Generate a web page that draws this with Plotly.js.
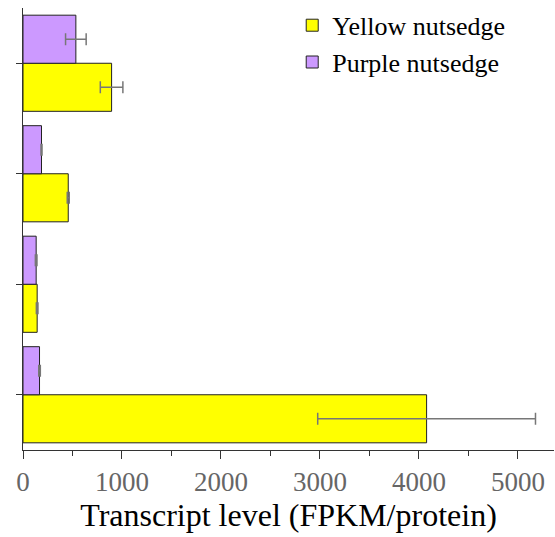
<!DOCTYPE html>
<html>
<head>
<meta charset="utf-8">
<script src="https://cdn.plot.ly/plotly-3.0.1.min.js"></script>
<style>html,body{margin:0;padding:0;background:#fff;}#chart{width:555px;height:537px;}</style>
</head>
<body>
<div id="chart"></div>
<script>
// Categories listed bottom to top (no labels shown in the original)
const categories = ["Gene 4", "Gene 3", "Gene 2", "Gene 1"];
const yellowValues = [4077, 143, 457, 895];
const yellowErrors = [1100, 8, 10, 114];
const purpleValues = [167, 133, 187, 534];
const purpleErrors = [8, 8, 5, 104];
const seriesNames = ["Yellow nutsedge", "Purple nutsedge"];

const font = "'Liberation Serif', 'Times New Roman', Times, serif";

const traces = [
  {
    type: "bar", orientation: "h", name: seriesNames[0],
    y: categories, x: yellowValues,
    marker: {color: "#ffff00", line: {color: "#222", width: 1}},
    error_x: {type: "data", array: yellowErrors, visible: true, color: "#777", thickness: 1.5, width: 6}
  },
  {
    type: "bar", orientation: "h", name: seriesNames[1],
    y: categories, x: purpleValues,
    marker: {color: "#cc99ff", line: {color: "#222", width: 1}},
    error_x: {type: "data", array: purpleErrors, visible: true, color: "#777", thickness: 1.5, width: 6}
  }
];

const layout = {
  width: 555, height: 537,
  margin: {l: 23, r: 1, t: 8, b: 87},
  paper_bgcolor: "#fff", plot_bgcolor: "#fff",
  barmode: "group", bargap: 0.13, bargroupgap: 0,
  font: {family: font, color: "#000"},
  showlegend: true,
  legend: {x: 0.507, y: 1.014, xanchor: "left", yanchor: "top", bgcolor: "rgba(0,0,0,0)",
           font: {family: font, size: 26, color: "#000"}, traceorder: "normal", tracegroupgap: 0},
  xaxis: {
    range: [0, 5364], dtick: 1000, tick0: 0, ticks: "outside", ticklen: 8, tickcolor: "#333",
    showline: true, linecolor: "#333", linewidth: 1, showgrid: false, zeroline: false,
    tickfont: {family: font, size: 27, color: "#666"}, automargin: true,
    minor: {dtick: 500, ticks: "outside", ticklen: 5, tickcolor: "#333", showgrid: false},
    title: {text: "Transcript level (FPKM/protein)", font: {family: font, size: 32, color: "#000"}, standoff: 2}
  },
  yaxis: {
    type: "category", range: [-0.5, 3.5], showticklabels: false, ticks: "outside", ticklen: 6, tickcolor: "#333",
    showline: true, linecolor: "#333", linewidth: 1, showgrid: false, zeroline: false
  }
};

Plotly.newPlot("chart", traces, layout, {displayModeBar: false, staticPlot: true});
</script>
</body>
</html>
